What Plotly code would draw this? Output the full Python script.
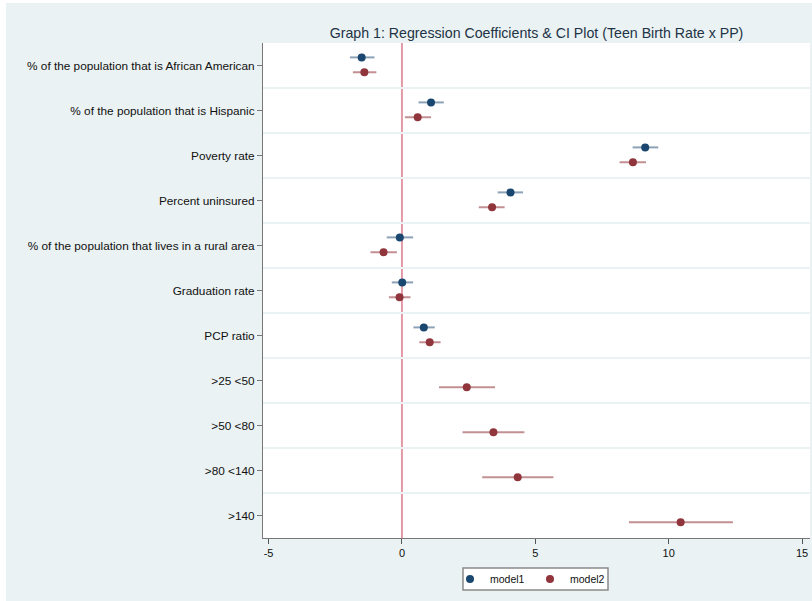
import plotly.graph_objects as go

categories = [
    "% of the population that is African American",
    "% of the population that is Hispanic",
    "Poverty rate",
    "Percent uninsured",
    "% of the population that lives in a rural area",
    "Graduation rate",
    "PCP ratio",
    ">25 <50",
    ">50 <80",
    ">80 <140",
    ">140",
]

# model1 (only first 7 variables)
m1_coef = [-1.51, 1.09, 9.12, 4.07, -0.08, 0.01, 0.82]
m1_lo = [-1.95, 0.62, 8.65, 3.59, -0.57, -0.38, 0.43]
m1_hi = [-1.03, 1.57, 9.61, 4.54, 0.42, 0.42, 1.23]

# model2 (all variables)
m2_coef = [-1.41, 0.59, 8.66, 3.38, -0.69, -0.09, 1.04, 2.43, 3.43, 4.34, 10.45]
m2_lo = [-1.84, 0.11, 8.16, 2.88, -1.18, -0.49, 0.65, 1.39, 2.27, 3.01, 8.51]
m2_hi = [-0.96, 1.09, 9.15, 3.85, -0.19, 0.32, 1.45, 3.49, 4.59, 5.68, 12.41]

x_ticks = [-5, 0, 5, 10, 15]

BG = "#EAF2F3"
C1 = "#1A476F"
C2 = "#90353B"

# figure is placed at (6, 3) in the page; window is 812x601
W, H = 806, 598
L, R, T, B = 257, 2, 40, 63
PW, PH = W - L - R, H - T - B

fig = go.Figure()

y1 = [i - 0.18 for i in range(len(m1_coef))]
y2 = [i + 0.15 for i in range(len(m2_coef))]

fig.add_trace(go.Scatter(
    x=m1_coef, y=y1, mode="markers", name="model1",
    marker=dict(color=C1, size=8, symbol="circle"),
    error_x=dict(type="data", symmetric=False,
                 array=[h - c for h, c in zip(m1_hi, m1_coef)],
                 arrayminus=[c - l for l, c in zip(m1_lo, m1_coef)],
                 color="rgba(26,71,111,0.5)", thickness=2, width=0),
))
fig.add_trace(go.Scatter(
    x=m2_coef, y=y2, mode="markers", name="model2",
    marker=dict(color=C2, size=8, symbol="circle"),
    error_x=dict(type="data", symmetric=False,
                 array=[h - c for h, c in zip(m2_hi, m2_coef)],
                 arrayminus=[c - l for l, c in zip(m2_lo, m2_coef)],
                 color="rgba(144,53,59,0.55)", thickness=2, width=0),
))

fig.add_shape(type="line", xref="x", yref="paper", x0=0, x1=0, y0=0, y1=1,
              line=dict(color="#E39AA6", width=2), layer="below")

# legend frame
def px_x(x):
    return (x - L) / PW

def px_y(y):
    return 1 - (y - T) / PH

fig.add_shape(type="rect", xref="paper", yref="paper",
              x0=px_x(457), x1=px_x(602), y0=px_y(587), y1=px_y(565),
              fillcolor="white", line=dict(color="#8A8A8A", width=1.5))

fig.update_layout(
    width=W, height=H,
    margin=dict(l=L, r=R, t=T, b=B, autoexpand=False),
    paper_bgcolor=BG, plot_bgcolor="white",
    font=dict(family="Liberation Sans, Arial, sans-serif", size=11.8, color="#111111"),
    title=dict(text="Graph 1: Regression Coefficients & CI Plot (Teen Birth Rate x PP)",
               x=0.5, xref="paper", xanchor="center", y=1 - 30 / H, yanchor="middle",
               font=dict(size=14.2, color="#1E3345")),
    showlegend=True,
    legend=dict(orientation="h", xref="container", x=444 / W, xanchor="left",
                yref="container", y=1 - 576 / H, yanchor="middle",
                bgcolor="rgba(0,0,0,0)", borderwidth=0,
                font=dict(size=10.5, color="#111111"), itemwidth=30,
                entrywidth=35, entrywidthmode="pixels",
                tracegroupgap=0),
    xaxis=dict(range=[-5.21, 15.3], tickvals=x_ticks, ticktext=[str(v) for v in x_ticks],
               showgrid=False, zeroline=False, ticks="outside", ticklen=5,
               tickcolor="#555555", showline=True, linecolor="#777777", linewidth=1,
               tickfont=dict(size=11), automargin=False),
    yaxis=dict(range=[10.5, -0.5], tickvals=list(range(len(categories))),
               ticktext=categories, showgrid=False, zeroline=False,
               ticks="outside", ticklen=5, tickcolor="#777777",
               showline=True, linecolor="#777777", linewidth=1,
               tickfont=dict(size=11.8), automargin=False,
               minor=dict(tickvals=[i + 0.5 for i in range(len(categories) - 1)],
                          showgrid=True, gridcolor=BG, gridwidth=2, ticklen=0)),
)

fig.write_html(
    "out.html",
    post_script="document.body.style.margin='3px 0 0 6px';"
                "document.body.style.background='white';"
                "document.body.style.overflow='hidden';",
)
